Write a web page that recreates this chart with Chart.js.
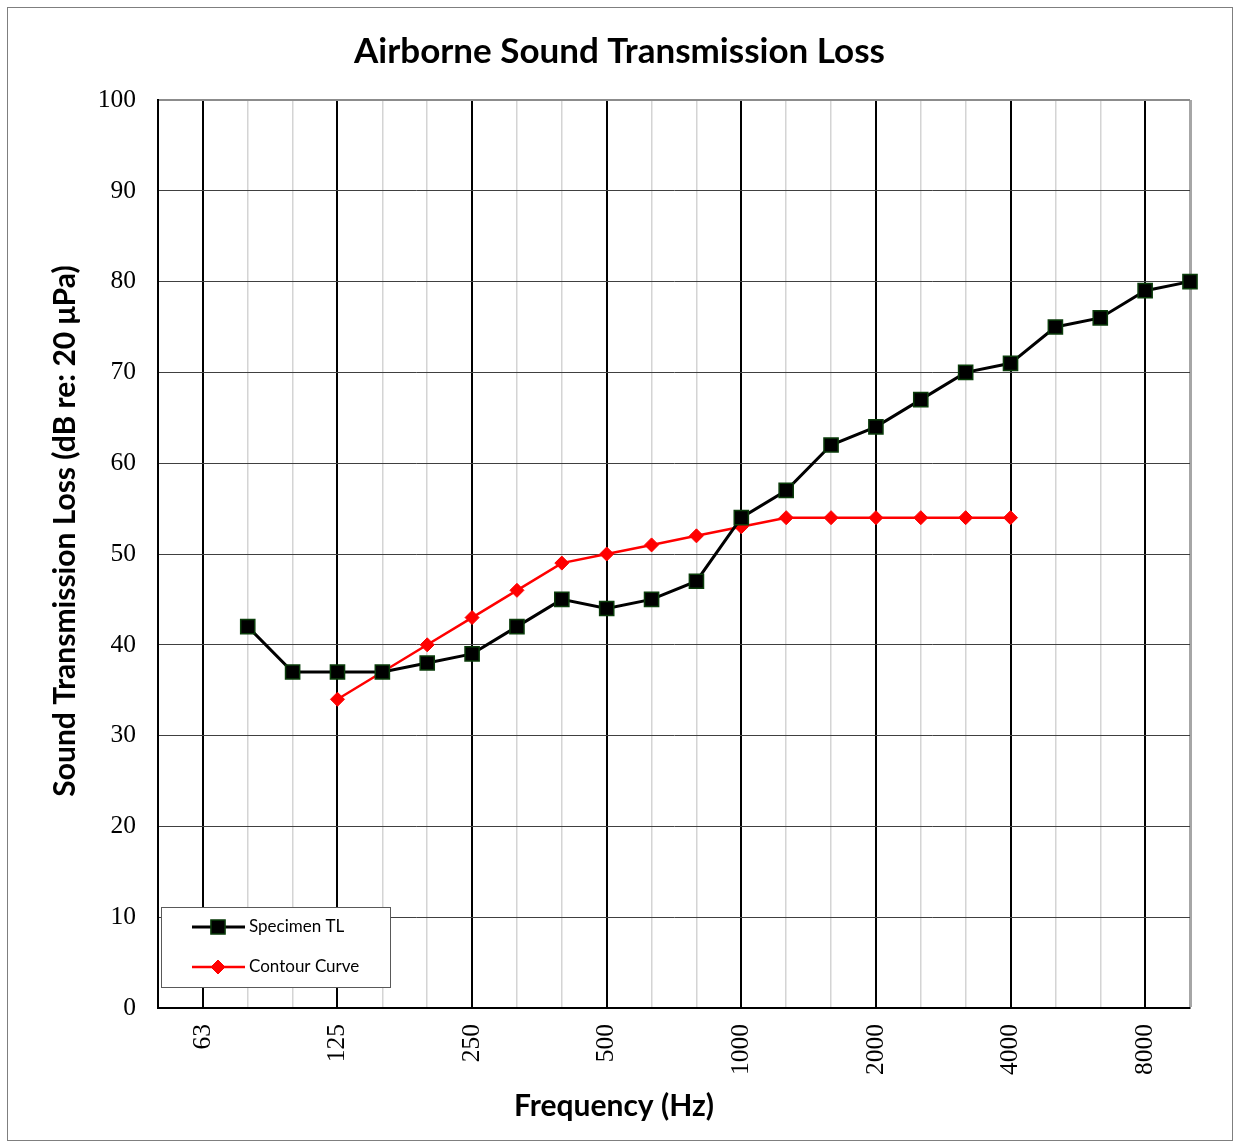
<!DOCTYPE html>
<html>
<head>
<meta charset="utf-8">
<script src="https://cdn.jsdelivr.net/npm/chart.js@4/dist/chart.umd.min.js"></script>
<style>
  body { margin: 0; background: #fff; }
  #wrap { width: 1239px; height: 1143px; position: relative; }
</style>
</head>
<body>
<div id="wrap"><canvas id="stl"></canvas></div>
<script>
// 1/3 octave bands, 50 Hz .. 10 kHz
const bands = ['50', '63', '80', '100', '125', '160', '200', '250', '315', '400', '500', '630',
  '800', '1000', '1250', '1600', '2000', '2500', '3150', '4000', '5000', '6300', '8000', '10000'];
const majorBands = ['63', '125', '250', '500', '1000', '2000', '4000', '8000'];

const specimenTL = [null, null, 42, 37, 37, 37, 38, 39, 42, 45, 44, 45,
  47, 54, 57, 62, 64, 67, 70, 71, 75, 76, 79, 80];
const contourCurve = [null, null, null, null, 34, 37, 40, 43, 46, 49, 50, 51,
  52, 53, 54, 54, 54, 54, 54, 54, null, null, null, null];

const serif = '"Liberation Serif", "DejaVu Serif", serif';
const sans = 'Lato, "Open Sans", sans-serif';

// frame, axis titles and the in-plot legend
const extras = {
  id: 'extras',
  beforeDraw(chart) {
    const c = chart.ctx;
    c.save();
    c.fillStyle = '#fff';
    c.fillRect(0, 0, chart.width, chart.height);
    c.strokeStyle = '#7f7f7f';
    c.lineWidth = 1;
    c.strokeRect(7.5, 7.5, 1225, 1133);
    c.restore();
  },
  afterDraw(chart) {
    const c = chart.ctx;
    c.save();
    c.fillStyle = '#000';
    c.font = 'bold 30px ' + sans;
    c.textAlign = 'center';
    c.textBaseline = 'middle';
    c.fillText('Frequency (Hz)', 614, 1106);
    c.save();
    c.translate(65, 531);
    c.rotate(-Math.PI / 2);
    c.fillText('Sound Transmission Loss (dB re: 20 μPa)', 0, 0);
    c.restore();

    // legend box
    const lx = 161, ly = 907, lw = 229, lh = 80;
    c.fillStyle = '#fff';
    c.fillRect(lx, ly, lw, lh);
    c.strokeStyle = '#595959';
    c.lineWidth = 1;
    c.strokeRect(lx + 0.5, ly + 0.5, lw, lh);
    const items = [
      { text: 'Specimen TL', ds: chart.data.datasets[0], y: ly + 20 },
      { text: 'Contour Curve', ds: chart.data.datasets[1], y: ly + 60 }
    ];
    items.forEach(it => {
      c.strokeStyle = it.ds.borderColor;
      c.lineWidth = it.ds.borderWidth;
      c.beginPath();
      c.moveTo(192, it.y);
      c.lineTo(245, it.y);
      c.stroke();
      c.fillStyle = it.ds.pointBackgroundColor;
      c.strokeStyle = it.ds.pointBorderColor;
      c.lineWidth = it.ds.pointBorderWidth;
      Chart.helpers.drawPoint(c, { pointStyle: it.ds.pointStyle, radius: it.ds.pointRadius, borderWidth: it.ds.pointBorderWidth }, 218, it.y);
      c.fillStyle = '#000';
      c.font = '17px ' + sans;
      c.textAlign = 'left';
      c.textBaseline = 'middle';
      c.fillText(it.text, 249, it.y);
    });
    c.restore();
  }
};

new Chart(document.getElementById('stl'), {
  type: 'line',
  data: {
    labels: bands,
    datasets: [
      {
        label: 'Specimen TL',
        data: specimenTL,
        borderColor: '#000',
        borderWidth: 3,
        pointStyle: 'rect',
        pointRadius: 10,
        pointHoverRadius: 10,
        pointBackgroundColor: '#000',
        pointBorderColor: '#0b3d0b',
        pointBorderWidth: 1.5,
        spanGaps: false
      },
      {
        label: 'Contour Curve',
        data: contourCurve,
        borderColor: '#ff0000',
        borderWidth: 2.5,
        pointStyle: 'rectRot',
        pointRadius: 7,
        pointHoverRadius: 7,
        pointBackgroundColor: '#ff0000',
        pointBorderColor: '#ff0000',
        pointBorderWidth: 1
      }
    ]
  },
  options: {
    responsive: true,
    maintainAspectRatio: false,
    animation: false,
    layout: { padding: 0 },
    plugins: {
      legend: { display: false },
      tooltip: { enabled: false },
      title: {
        display: true,
        text: 'Airborne Sound Transmission Loss',
        color: '#000',
        font: { family: sans, size: 35, weight: 'bold' },
        padding: { top: 31, bottom: 27 }
      }
    },
    scales: {
      x: {
        type: 'category',
        offset: false,
        afterFit: s => { s.height = 135; },
        border: { display: true, color: '#000', width: 2 },
        grid: {
          drawTicks: false,
          color: ctx => {
            const lab = bands[ctx.index];
            if (ctx.index === 0) return '#000';
            if (ctx.index === bands.length - 1) return '#a6a6a6';
            return majorBands.includes(lab) ? '#000' : '#d4d4d4';
          },
          lineWidth: ctx => {
            const lab = bands[ctx.index];
            if (ctx.index === bands.length - 1) return 3;
            return majorBands.includes(lab) ? 2 : 1.5;
          }
        },
        ticks: {
          autoSkip: false,
          minRotation: 90,
          maxRotation: 90,
          padding: 16,
          color: '#000',
          font: { family: serif, size: 25.5 },
          callback: (v, i) => majorBands.includes(bands[i]) ? bands[i] : ''
        },
        title: { display: false }
      },
      y: {
        min: 0,
        max: 100,
        afterFit: s => { s.width = 158; },
        border: { display: true, color: '#000', width: 2 },
        grid: {
          drawTicks: false,
          color: ctx => ctx.tick.value === 100 ? '#8c8c8c' : '#404040',
          lineWidth: ctx => ctx.tick.value === 100 ? 2 : 1
        },
        ticks: {
          stepSize: 10,
          padding: 22,
          color: '#000',
          font: { family: serif, size: 25.5 }
        },
        title: { display: false }
      },
      yr: {
        position: 'right',
        display: true,
        afterFit: s => { s.width = 49; },
        border: { display: false },
        grid: { drawOnChartArea: false, drawTicks: false },
        ticks: { display: false }
      }
    }
  },
  plugins: [extras]
});
</script>
</body>
</html>
